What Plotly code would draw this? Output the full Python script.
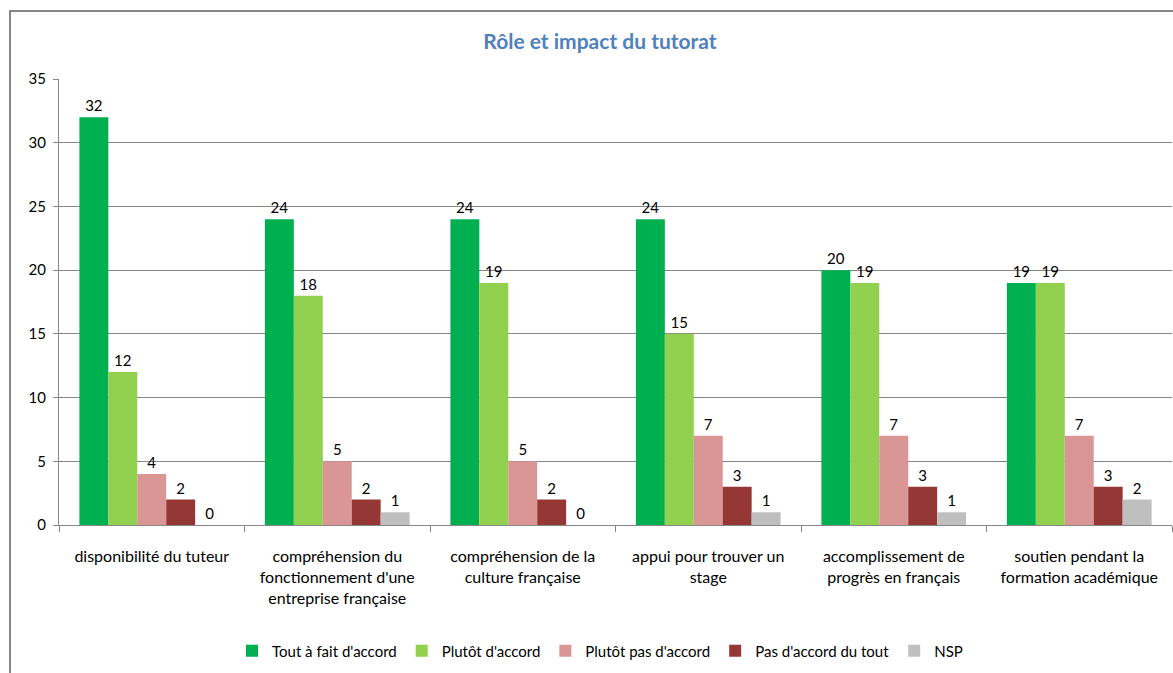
import plotly.graph_objects as go

categories = [
    "disponibilité du tuteur",
    "compréhension du<br>fonctionnement d'une<br>entreprise française",
    "compréhension de la<br>culture française",
    "appui pour trouver un<br>stage",
    "accomplissement de<br>progrès en français",
    "soutien pendant la<br>formation académique",
]
series_names = ["Tout à fait d'accord", "Plutôt d'accord", "Plutôt pas d'accord", "Pas d'accord du tout", "NSP"]
tout_a_fait = [32, 24, 24, 24, 20, 19]
plutot = [12, 18, 19, 15, 19, 19]
plutot_pas = [4, 5, 5, 7, 7, 7]
pas_du_tout = [2, 2, 2, 3, 3, 3]
nsp = [0, 1, 0, 1, 1, 2]
colors = ["#00B050", "#92D050", "#D99694", "#953735", "#BFBFBF"]

FONT = "Lato, Carlito, 'Open Sans', sans-serif"

fig = go.Figure()
for name, vals, col in zip(series_names, [tout_a_fait, plutot, plutot_pas, pas_du_tout, nsp], colors):
    fig.add_trace(go.Bar(
        name=name, x=categories, y=vals, marker_color=col, marker_line_width=0,
        text=[str(v) for v in vals], textposition="outside", cliponaxis=False,
        textfont=dict(size=15, color="#000000", family=FONT),
    ))

fig.update_layout(
    width=1173, height=673,
    margin=dict(l=59, r=1, t=79, b=148),
    paper_bgcolor="white", plot_bgcolor="white",
    barmode="group", bargap=0.22, bargroupgap=0,
    font=dict(family=FONT, size=15, color="#000000"),
    title=dict(text="<b>Rôle et impact du tutorat</b>", x=(600 - 59) / 1113, xref="paper", y=1 - 42 / 673, yanchor="middle",
               xanchor="center", font=dict(size=21, color="#4F81BD", family=FONT)),
    showlegend=True,
    legend=dict(orientation="h", x=(600 - 59) / 1113, xanchor="center", y=-0.2825, yanchor="middle",
                font=dict(size=15, family=FONT), itemwidth=30, traceorder="normal"),
    yaxis=dict(range=[0, 35], dtick=5, showgrid=True, gridcolor="#868686", gridwidth=1,
               showline=True, linecolor="#868686", linewidth=1, ticks="outside", ticklen=5,
               tickcolor="#868686", tickfont=dict(size=15), zeroline=False, ticklabelstandoff=4),
    xaxis=dict(showline=True, linecolor="#868686", linewidth=1, ticks="outside", ticklen=6,
               tickcolor="#868686", tickson="boundaries", tickfont=dict(size=16), showgrid=False,
               ticklabelstandoff=17),
)

fig.add_shape(type="rect", xref="paper", yref="paper",
              x0=(10 - 59) / 1113, x1=(1200 - 59) / 1113,
              y0=(525 - 700) / 446, y1=(525 - 11) / 446,
              line=dict(color="#868686", width=2), fillcolor="rgba(0,0,0,0)", layer="below")

fig.write_html("out.html")
